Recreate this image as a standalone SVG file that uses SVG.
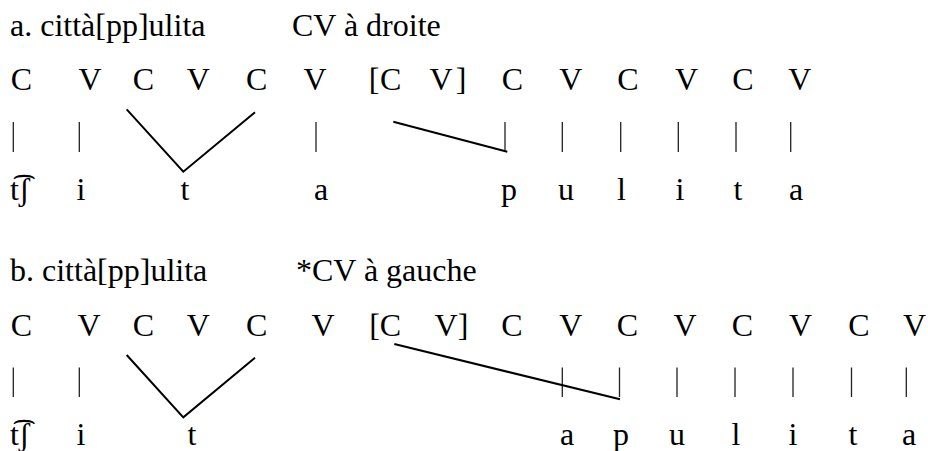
<svg xmlns="http://www.w3.org/2000/svg" width="928" height="451" viewBox="0 0 928 451">
<style>
text{font-family:"Liberation Serif","Times New Roman",serif;font-size:32px;fill:#000}
.m{text-anchor:middle}
.bar{stroke:#222;stroke-width:1.3;fill:none}
.ln{stroke:#000;stroke-width:2;fill:none}
</style>
<rect width="928" height="451" fill="#fff"/>
<g id="exA">
<g id="titleA">
<text x="10" y="36">a. città[pp]ulita</text>
<text x="292" y="36">CV à droite</text>
</g>
<g id="skelA">
<text class="m" x="21.3" y="90">C</text>
<text class="m" x="90" y="90">V</text>
<text class="m" x="143.3" y="90">C</text>
<text class="m" x="198.3" y="90">V</text>
<text class="m" x="256.7" y="90">C</text>
<text class="m" x="315" y="90">V</text>
<text class="m" x="374" y="90">[</text>
<text class="m" x="390.7" y="90">C</text>
<text class="m" x="441" y="90">V</text>
<text class="m" x="461" y="90">]</text>
<text class="m" x="512.3" y="90">C</text>
<text class="m" x="570.7" y="90">V</text>
<text class="m" x="628" y="90">C</text>
<text class="m" x="686.5" y="90">V</text>
<text class="m" x="743" y="90">C</text>
<text class="m" x="799.8" y="90">V</text>
</g>
<g id="melA">
<text x="10" y="200">t͡ʃ</text>
<text class="m" x="81" y="200">i</text>
<text class="m" x="185" y="200">t</text>
<text class="m" x="321" y="200">a</text>
<text class="m" x="509" y="200">p</text>
<text class="m" x="566" y="200">u</text>
<text class="m" x="621.5" y="200">l</text>
<text class="m" x="680" y="200">i</text>
<text class="m" x="738" y="200">t</text>
<text class="m" x="796" y="200">a</text>
</g>
</g>
<g id="connA">
<path class="bar" d="M13.3 122V152M79.3 122V152M316 122V152M505 122V152M562.3 122V152M620.7 122V152M678.3 122V152M736 122V152M790.7 122V152"/>
<path class="ln" d="M126.7 109.3L183.3 171.7L255 112.3"/>
<path class="ln" d="M393.3 121.7L507.3 151.7"/>
</g>
<g id="exB">
<g id="titleB">
<text x="10" y="281">b. città[pp]ulita</text>
<text x="296" y="281">*CV à gauche</text>
</g>
<g id="skelB">
<text class="m" x="21.5" y="336">C</text>
<text class="m" x="89" y="336">V</text>
<text class="m" x="143.3" y="336">C</text>
<text class="m" x="198.3" y="336">V</text>
<text class="m" x="256.7" y="336">C</text>
<text class="m" x="323" y="336">V</text>
<text class="m" x="374.5" y="336">[</text>
<text class="m" x="390.5" y="336">C</text>
<text class="m" x="446" y="336">V</text>
<text class="m" x="463" y="336">]</text>
<text class="m" x="512" y="336">C</text>
<text class="m" x="570.7" y="336">V</text>
<text class="m" x="627.5" y="336">C</text>
<text class="m" x="685" y="336">V</text>
<text class="m" x="742.5" y="336">C</text>
<text class="m" x="800.5" y="336">V</text>
<text class="m" x="859" y="336">C</text>
<text class="m" x="914.5" y="336">V</text>
</g>
<g id="melB">
<text x="10" y="445">t͡ʃ</text>
<text class="m" x="81" y="445">i</text>
<text class="m" x="192" y="445">t</text>
<text class="m" x="567" y="445">a</text>
<text class="m" x="621" y="445">p</text>
<text class="m" x="677" y="445">u</text>
<text class="m" x="736" y="445">l</text>
<text class="m" x="793" y="445">i</text>
<text class="m" x="853" y="445">t</text>
<text class="m" x="909" y="445">a</text>
</g>
</g>
<g id="connB">
<path class="bar" d="M13.3 367.5V397M79.3 367.5V397M562.3 367.5V397M619.5 367.5V397M677 367.5V397M735 367.5V397M793 367.5V397M851.5 367.5V397M906.3 367.5V397"/>
<path class="ln" d="M126.7 355L183.3 417.3L255 357.7"/>
<path class="ln" d="M394.3 344L620 399.3"/>
</g>
</svg>
